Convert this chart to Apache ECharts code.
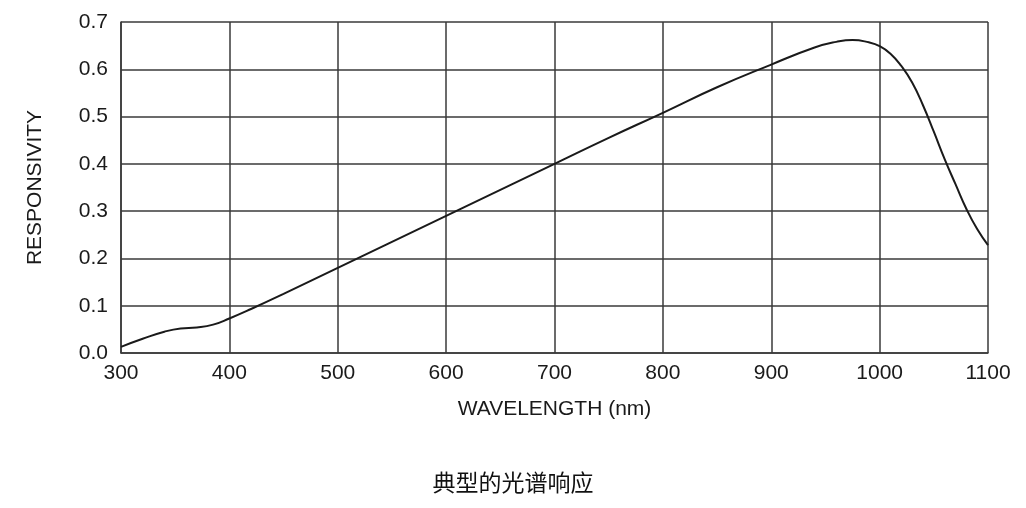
<!DOCTYPE html>
<html>
<head>
<meta charset="utf-8">
<script src="https://cdn.jsdelivr.net/npm/echarts@6/dist/echarts.min.js"></script>
<style>
html,body{margin:0;padding:0;background:#fff;}
#chart{width:1026px;height:508px;}
</style>
</head>
<body>
<div id="chart"></div>
<script>
const wavelengths = [300,320,340,355,370,385,400,420,450,500,550,600,650,700,750,800,850,900,940,960,975,990,1000,1010,1020,1030,1040,1050,1060,1070,1080,1090,1100];
const responsivity = [0.013,0.030,0.045,0.052,0.054,0.060,0.073,0.093,0.125,0.180,0.235,0.290,0.345,0.400,0.455,0.508,0.562,0.610,0.646,0.658,0.662,0.657,0.649,0.633,0.607,0.572,0.524,0.468,0.410,0.357,0.305,0.262,0.228];
const xTitle = 'WAVELENGTH (nm)';
const yTitle = 'RESPONSIVITY';
const chartTitle = '典型的光谱响应';

const font = '"Liberation Sans", Arial, sans-serif';
const chart = echarts.init(document.getElementById('chart'), null, {renderer:'canvas'});
const gridLine = {show:true, lineStyle:{color:'#3a3a3a', width:1.5}};
chart.setOption({
  animation:false,
  title:{
    text:chartTitle, left:'center', top:466,
    textStyle:{fontFamily:'"Noto Sans CJK SC", sans-serif', fontSize:23, fontWeight:'normal', color:'#111'}
  },
  grid:{left:121, right:38, top:22, bottom:155, containLabel:false},
  xAxis:{
    type:'value', min:300, max:1100, interval:100,
    name:xTitle, nameLocation:'middle', nameGap:46,
    nameTextStyle:{fontFamily:font, fontSize:21, color:'#1a1a1a'},
    axisLine:{show:true, lineStyle:{color:'#3a3a3a', width:1.5}},
    axisTick:{show:false},
    axisLabel:{fontFamily:font, fontSize:21, color:'#1a1a1a', margin:10, formatter:v=>String(v)},
    splitLine:gridLine
  },
  yAxis:{
    type:'value', min:0, max:0.7, interval:0.1,
    name:yTitle, nameLocation:'middle', nameGap:75, nameRotate:90,
    nameTextStyle:{fontFamily:font, fontSize:21, color:'#1a1a1a'},
    axisLine:{show:true, lineStyle:{color:'#3a3a3a', width:1.5}},
    axisTick:{show:false},
    axisLabel:{fontFamily:font, fontSize:21, color:'#1a1a1a', margin:13, formatter:v=>v.toFixed(1)},
    splitLine:gridLine
  },
  series:[{
    type:'line', smooth:0.5, symbol:'none',
    data:wavelengths.map((w,i)=>[w,responsivity[i]]),
    lineStyle:{color:'#1a1a1a', width:2}
  }]
});
</script>
</body>
</html>
